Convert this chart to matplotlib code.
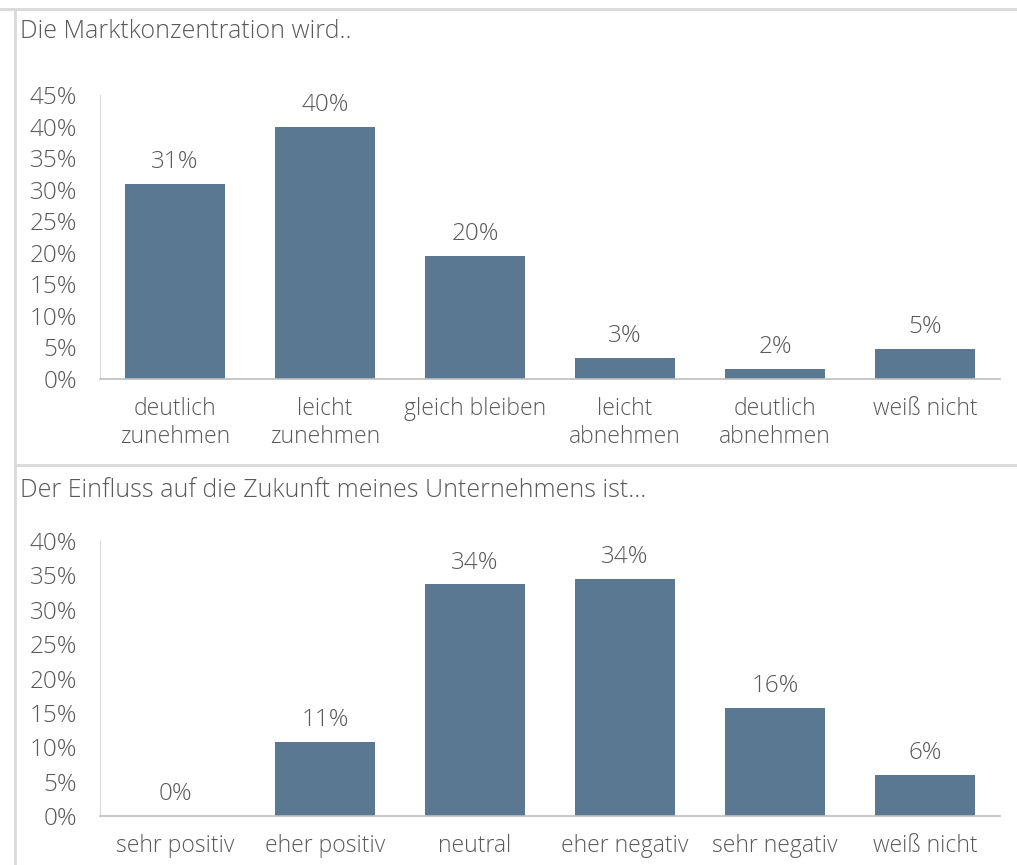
import matplotlib
matplotlib.use("Agg")
import matplotlib.pyplot as plt
from matplotlib.lines import Line2D

# Daten
kategorien_oben = ["deutlich\nzunehmen", "leicht\nzunehmen", "gleich bleiben",
                   "leicht\nabnehmen", "deutlich\nabnehmen", "weiß nicht"]
werte_oben = [30.9, 39.9, 19.5, 3.3, 1.6, 4.8]
labels_oben = ["31%", "40%", "20%", "3%", "2%", "5%"]

kategorien_unten = ["sehr positiv", "eher positiv", "neutral",
                    "eher negativ", "sehr negativ", "weiß nicht"]
werte_unten = [0.0, 10.8, 33.7, 34.5, 15.7, 6.0]
labels_unten = ["0%", "11%", "34%", "34%", "16%", "6%"]

plt.rcParams["font.family"] = ["Open Sans", "DejaVu Sans"]
plt.rcParams["font.weight"] = 300
farbe_balken = "#5b7893"
farbe_text = "#595959"
farbe_linie = "#d9d9d9"

W, H = 1017, 865
fig = plt.figure(figsize=(W / 100, H / 100), dpi=100)


def fx(px):
    return px / W


def fy(py):
    return 1 - py / H


def balken(ax, kategorien, werte, labels, ymax, titel, titel_y):
    x = list(range(len(kategorien)))
    ax.bar(x, werte, width=0.667, color=farbe_balken)
    for xi, w, lab in zip(x, werte, labels):
        ax.text(xi, w + ymax * 0.035, lab, ha="center", va="bottom",
                fontsize=17.5, color=farbe_text)
    ax.set_xlim(-0.5, 5.5)
    ax.set_ylim(0, ymax)
    ax.set_yticks(range(0, ymax + 1, 5))
    ax.set_yticklabels([f"{v}%" for v in range(0, ymax + 1, 5)], fontsize=17.5)
    ax.set_xticks(x)
    ax.set_xticklabels(kategorien, linespacing=1.2, fontsize=16.5)
    ax.tick_params(axis="both", length=0, labelcolor=farbe_text)
    ax.tick_params(axis="x", pad=13)
    ax.tick_params(axis="y", pad=16.5)
    for s in ["top", "right"]:
        ax.spines[s].set_visible(False)
    ax.spines["left"].set_color(farbe_linie)
    ax.spines["bottom"].set_color("#bfbfbf")
    ax.spines["bottom"].set_linewidth(1.2)
    fig.text(fx(20), fy(titel_y), titel, fontsize=18, color=farbe_text,
             ha="left", va="center")


ax1 = fig.add_axes([fx(100), fy(379), fx(900), 284 / H])
balken(ax1, kategorien_oben, werte_oben, labels_oben, 45,
       "Die Marktkonzentration wird..", 32)

ax2 = fig.add_axes([fx(100), fy(816), fx(900), 275 / H])
balken(ax2, kategorien_unten, werte_unten, labels_unten, 40,
       "Der Einfluss auf die Zukunft meines Unternehmens ist...", 490)

# Rahmen der Panels
for linie in [
    [(fx(15), fx(15)), (fy(10), 0)],
    [(0, 1), (fy(9), fy(9))],
    [(fx(15), 1), (fy(465), fy(465))],
]:
    fig.add_artist(Line2D(linie[0], linie[1], transform=fig.transFigure,
                          color=farbe_linie, linewidth=2))

fig.savefig("out.png", dpi=100)
